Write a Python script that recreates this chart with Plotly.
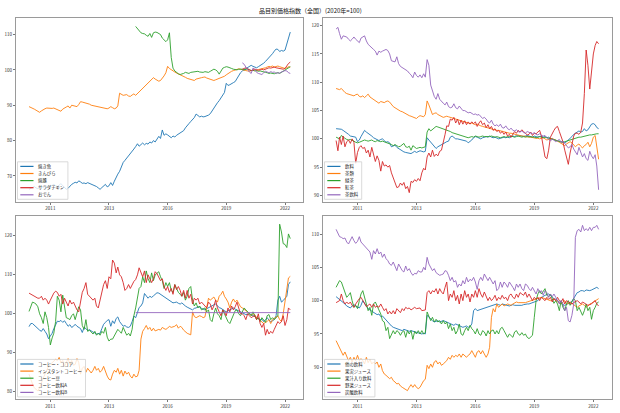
import unicodedata
import pandas as pd
import plotly.graph_objects as go

W, H = 620, 413
COLORS = ["#1f77b4", "#ff7f0e", "#2ca02c", "#d62728", "#9467bd"]
FONT = "Noto Sans CJK JP"

TITLE = "品目別価格指数（全国）(2020年=100)"
TICK_DATES = ["2011-01-01", "2013-10-01", "2016-07-01", "2019-04-01", "2022-01-01"]
TICK_LABELS = ["2011", "2013", "2016", "2019", "2022"]

# ---------------- panel 1 (top-left) ----------------
P1_NAMES = ["焼き魚", "きんぴら", "焼豚", "サラダチキン", "おでん"]
P1_STARTS = ["2010-01-01", "2010-01-01", "2015-01-01", "2020-01-01", "2020-01-01"]
yakizakana = [
    66.2, 66.5, 66.9, 67.0, 66.6, 66.4, 66.8, 67.1, 66.7, 66.5, 66.9, 67.3,
    67.0, 67.3, 67.6, 67.2, 67.0, 67.4, 67.8, 67.3, 66.8, 66.2, 66.5, 67.1,
    67.6, 67.9, 68.2, 68.0, 68.6, 68.3, 67.9, 68.0, 67.8, 68.1, 67.9, 67.6,
    67.4, 67.3, 67.0, 66.6, 66.2, 66.7, 67.1, 67.6, 66.9, 67.2, 68.1, 67.3,
    68.5, 69.8, 70.5, 71.3, 72.5, 73.8, 74.4, 75.0, 75.6, 76.2, 77.0, 77.6,
    78.3, 79.1, 78.4, 78.9, 79.3, 78.8, 79.2, 79.0, 79.6, 79.3, 80.0, 79.6,
    80.4, 81.2, 80.6, 83.0, 81.5, 81.9, 81.6, 81.2, 80.8, 81.3, 81.0, 81.5,
    81.8, 82.0, 82.3, 82.8, 83.6, 84.4, 84.8, 85.4, 85.9, 86.5, 87.5, 87.0,
    86.7, 86.9, 86.7, 86.8, 86.9, 87.2, 87.6, 88.4, 89.3, 90.2, 90.7, 91.3,
    92.0, 93.0, 93.6, 96.2, 95.6, 95.8, 96.0, 96.4, 96.7, 97.6, 98.5, 99.2,
    99.7, 100.0, 100.4, 100.7, 101.1, 101.3, 101.0, 100.8, 100.6, 100.9, 101.2, 101.5,
    101.9, 102.4, 102.9, 103.3, 104.0, 104.6, 105.3, 105.9, 105.8, 105.2, 105.5, 105.3,
    105.6, 107.2, 109.0, 110.7,
]
kinpira = [
    89.6, 89.4, 89.2, 88.9, 88.6, 88.3, 88.0, 88.4, 88.8, 89.0, 89.2, 89.1,
    89.0, 89.1, 89.2, 89.0, 88.8, 88.4, 88.3, 88.9, 89.3, 89.5, 89.8, 89.2,
    90.0, 89.8, 89.7, 89.6, 90.2, 91.0, 90.9, 90.8, 90.7, 90.6, 90.3, 90.0,
    89.9, 89.8, 89.6, 89.5, 89.4, 89.3, 89.3, 89.2, 89.0, 89.2, 89.6, 89.3,
    89.0, 89.2, 89.8, 93.4, 93.0, 92.8, 92.9, 93.0, 92.6, 92.5, 92.9, 93.2,
    92.8, 93.3, 94.0, 94.5, 95.0, 95.5, 96.0, 96.5, 97.0, 97.5, 97.8, 97.4,
    97.2, 96.8, 97.0, 97.6, 98.3, 99.2, 101.0, 100.4, 100.0, 99.6, 99.4, 99.1,
    98.9, 98.6, 98.4, 98.1, 97.9, 97.6, 97.4, 97.3, 97.1, 97.0, 97.4, 97.6,
    97.7, 97.8, 97.9, 98.0, 97.7, 97.5, 97.3, 97.1, 97.0, 97.2, 97.4, 97.5,
    97.6, 97.9, 98.2, 98.6, 99.0, 99.3, 99.6, 99.8, 100.0, 100.2, 100.3, 100.2,
    100.0, 99.9, 99.8, 99.7, 99.6, 99.8, 100.0, 99.9, 99.8, 100.1, 100.2, 100.3,
    100.4, 100.6, 100.8, 101.0, 100.9, 101.1, 100.8, 101.0, 101.1, 100.9, 100.7, 100.5,
    100.4, 100.6, 100.9, 100.8,
]
yakibuta = [
    112.3, 111.7, 111.0, 110.5, 110.3, 110.2, 109.8, 109.5, 110.3, 109.2, 110.5, 110.7,
    110.6, 110.4, 110.0, 109.0, 108.4, 108.0, 108.5, 110.5, 103.5, 100.5, 99.7, 99.2,
    98.9, 98.7, 98.8, 99.0, 99.3, 99.1, 99.0, 99.3, 99.4, 99.3, 99.5, 99.6,
    99.4, 99.3, 99.3, 99.5, 99.4, 99.3, 99.6, 99.9, 100.2, 100.0, 99.6, 98.8,
    99.8, 100.5, 100.7, 100.9, 100.8, 100.5, 100.4, 100.2, 100.1, 100.0, 100.2, 100.3,
    100.2, 100.0, 100.1, 100.3, 100.0, 99.8, 99.9, 99.7, 99.8, 99.6, 99.7, 99.5,
    99.4, 99.3, 99.2, 99.0, 99.1, 99.0, 98.9, 99.1, 99.2, 99.0, 99.3, 99.6,
    100.0, 100.3, 100.6, 100.9,
]
salad_chicken = [
    100.2, 100.4, 100.6, 100.3, 100.0, 99.8, 99.9, 100.2, 100.1, 99.9, 100.0, 100.2,
    100.0, 100.2, 100.4, 100.6, 100.5, 100.7, 100.8, 100.6, 100.5, 100.4, 100.3, 100.2,
    100.4, 101.3, 101.8, 102.2,
]
oden = [
    102.0, 101.6, 100.8, 100.0, 99.4, 99.0, 100.5, 100.2, 99.3, 99.0, 98.8, 98.7,
    99.2, 99.6, 99.4, 99.2, 99.5, 99.3, 99.4, 99.0, 99.2, 99.1, 99.4, 99.6,
    99.8, 99.7, 99.2, 99.0,
]

# ---------------- panel 2 (top-right) ----------------
P2_NAMES = ["飲料", "茶類", "緑茶", "紅茶", "茶飲料"]
P2_STARTS = ["2010-01-01"] * 5
inryo = [
    101.8, 101.8, 101.7, 101.7, 101.5, 101.3, 101.0, 100.8, 100.5, 100.4, 100.3, 100.3,
    99.5, 99.8, 100.4, 100.9, 101.5, 101.2, 101.0, 100.8, 100.5, 100.2, 100.0, 99.8,
    99.7, 99.9, 100.0, 99.7, 99.4, 99.5, 99.3, 98.6, 98.8, 98.9, 98.5, 98.3,
    98.0, 97.9, 97.7, 97.6, 97.5, 97.4, 97.4, 97.6, 97.8, 97.6, 97.7, 97.9,
    97.8, 97.7, 97.8, 100.2, 99.8, 99.4, 99.0, 98.5, 98.3, 98.6, 98.8, 99.0,
    99.2, 99.3, 99.5, 99.6, 100.3, 100.5, 100.3, 100.0, 100.0, 99.9, 99.8, 99.8,
    99.7, 99.6, 99.3, 99.5, 99.8, 100.2, 100.4, 100.3, 100.1, 100.0, 100.2, 100.3,
    100.4, 100.3, 100.5, 100.3, 100.2, 100.3, 100.1, 100.0, 100.1, 100.2, 100.3, 100.2,
    100.3, 100.2, 100.4, 100.5, 100.4, 100.6, 100.5, 100.6, 100.5, 100.4, 100.5, 100.6,
    100.5, 100.4, 100.3, 100.5, 100.4, 100.3, 100.4, 100.5, 100.3, 100.4, 100.2, 100.3,
    100.1, 100.0, 99.8, 99.7, 99.6, 99.5, 99.4, 99.5, 99.3, 99.5, 99.8, 100.0,
    100.4, 100.8, 101.0, 101.2, 101.4, 101.2, 101.3, 101.8, 101.4, 101.6, 102.2, 102.6,
    102.7, 102.5, 102.0, 101.8,
]
cha_rui = [
    108.9, 108.8, 108.7, 108.9, 108.5, 108.2, 108.0, 107.9, 107.8, 107.7, 107.6, 107.8,
    107.9, 107.5, 107.4, 107.6, 107.3, 107.6, 107.9, 107.4, 107.2, 107.0, 106.8, 106.5,
    106.3, 106.6, 106.5, 106.4, 106.6, 106.7, 106.5, 106.0, 105.7, 105.5, 105.3, 105.0,
    104.9, 104.8, 104.6, 104.4, 104.2, 104.1, 104.0, 103.9, 103.8, 103.6, 103.9, 104.1,
    104.0, 103.9, 104.3, 106.7, 106.0, 104.9, 104.3, 104.5, 104.6, 104.3, 104.1, 104.0,
    103.8, 103.9, 104.0, 103.9, 103.8, 103.7, 103.6, 103.5, 103.5, 103.3, 103.2, 103.1,
    103.0, 102.9, 102.8, 102.7, 102.8, 102.6, 102.5, 102.6, 102.4, 102.3, 102.2, 102.1,
    102.0, 101.9, 101.9, 101.8, 101.7, 101.6, 101.5, 101.5, 101.4, 101.3, 101.3, 101.2,
    101.1, 101.0, 101.0, 100.9, 100.8, 100.8, 100.7, 100.6, 100.5, 100.5, 100.4, 100.4,
    100.3, 100.3, 100.2, 100.2, 100.1, 100.1, 100.0, 100.1, 100.2, 100.0, 99.8, 99.9,
    100.0, 100.1, 99.9, 99.8, 99.6, 99.4, 99.2, 99.0, 98.8, 99.1, 99.3, 99.5,
    99.3, 99.0, 98.6, 98.9, 99.1, 98.7, 98.4, 98.8, 99.0, 99.4, 98.6, 99.2,
    100.3, 100.6, 98.8, 96.4,
]
ryokucha = [
    100.3, 100.1, 100.0, 100.6, 100.3, 100.1, 99.9, 99.8, 99.9, 99.8, 99.6, 99.4,
    99.3, 99.4, 99.5, 99.7, 99.8, 99.7, 99.6, 99.7, 99.8, 99.6, 99.5, 99.7,
    99.6, 99.5, 99.6, 99.5, 99.4, 99.3, 99.1, 99.0, 98.8, 99.0, 98.8, 98.6,
    98.7, 98.9, 99.2, 98.6, 98.5, 98.7, 98.0, 98.8, 98.5, 98.3, 98.4, 98.5,
    98.4, 98.5, 98.6, 101.2, 101.8, 101.4, 101.7, 102.0, 102.2, 102.1, 102.0, 101.8,
    101.7, 101.6, 101.5, 101.4, 101.3, 101.1, 101.0, 100.9, 100.8, 100.7, 100.6, 100.4,
    100.3, 100.3, 100.2, 100.3, 100.4, 100.3, 100.5, 100.4, 100.3, 100.4, 100.5, 100.4,
    100.4, 100.3, 100.4, 100.5, 100.4, 100.3, 100.4, 100.3, 100.2, 100.3, 100.4, 100.3,
    100.3, 100.4, 100.5, 100.4, 100.3, 100.4, 100.5, 100.4, 100.3, 100.4, 100.3, 100.4,
    100.4, 100.3, 100.4, 100.3, 100.2, 100.3, 100.4, 100.3, 100.2, 100.3, 100.2, 100.1,
    100.0, 100.0, 99.9, 99.8, 99.7, 99.6, 99.5, 99.4, 99.5, 99.6, 99.8, 99.9,
    99.9, 100.0, 100.1, 100.2, 100.3, 100.3, 100.4, 100.5, 100.5, 100.6, 100.7, 100.7,
    100.8, 100.8, 100.9, 100.9,
]
kocha = [
    99.7, 97.9, 100.3, 99.0, 100.5, 98.6, 99.5, 99.8, 99.2, 100.0, 99.4, 95.7,
    97.6, 98.5, 98.8, 98.3, 98.5, 97.5, 98.0, 96.8, 98.5, 97.0, 96.0, 97.0,
    96.2, 94.3, 96.0, 95.2, 95.4, 95.0, 95.3, 94.0, 93.0, 92.0, 91.4, 91.5,
    92.2, 91.8, 92.3, 91.2, 91.6, 90.5, 92.5, 92.3, 92.8, 92.5, 93.0, 92.6,
    94.0, 94.8, 94.5, 96.8, 97.5, 96.8, 98.0, 96.9, 97.3, 97.0, 97.8, 98.0,
    99.2, 100.8, 102.3, 102.2, 103.5, 103.3, 103.8, 102.8, 103.5, 102.5, 103.3, 102.6,
    103.2, 102.5, 103.0, 102.6, 103.0, 102.7, 103.0, 102.2, 102.8, 103.2, 102.5, 102.8,
    102.0, 102.5, 101.8, 102.2, 101.5, 101.8, 101.3, 101.5, 101.0, 101.3, 100.8, 101.2,
    100.5, 100.8, 100.3, 100.8, 101.3, 101.0, 101.5, 101.2, 101.6, 101.3, 101.0, 100.7,
    100.8, 101.2, 100.6, 101.0, 100.9, 101.3, 101.5, 100.5, 98.5, 96.8, 96.5, 98.0,
    100.3, 101.0, 101.5, 102.0, 102.2, 101.3, 100.5, 99.5, 98.0, 96.5, 95.5, 97.5,
    99.2, 100.5, 101.0, 101.0, 100.8, 101.2, 102.8, 108.0, 115.7, 113.0, 108.8, 112.5,
    115.0, 116.5, 117.2, 116.8,
]
cha_inryo = [
    119.4, 119.7, 118.6, 117.6, 118.2, 118.1, 118.0, 117.6, 117.3, 117.6, 118.0, 117.6,
    117.3, 117.0, 117.8, 118.0, 118.2, 117.3, 116.7, 116.4, 116.0, 115.8, 115.5, 114.8,
    115.5, 115.3, 115.5, 115.7, 115.8, 115.6, 115.0, 113.8, 113.7, 113.6, 114.5, 113.3,
    112.8, 112.6, 112.4, 112.2, 112.0, 111.6, 111.3, 110.8, 111.8, 111.2, 110.9, 111.3,
    110.8, 111.5, 110.9, 114.0, 113.0, 109.5, 108.5, 107.5, 107.0, 108.0, 107.0, 106.6,
    106.3, 106.0, 106.5, 105.7, 105.5, 105.6, 106.2, 105.5, 105.3, 105.8, 105.4, 105.0,
    105.0, 104.8, 104.6, 104.7, 104.5, 104.3, 104.4, 104.2, 104.3, 104.0, 103.6, 103.8,
    103.5, 103.0, 102.8, 103.3, 102.6, 102.3, 102.5, 102.2, 102.6, 102.0, 101.9, 102.3,
    101.8, 101.6, 101.9, 101.5, 101.4, 101.6, 101.3, 101.2, 101.4, 101.1, 101.0, 101.3,
    101.2, 101.0, 100.9, 101.1, 100.8, 100.7, 100.9, 100.6, 100.5, 100.6, 100.2, 99.8,
    99.6, 100.0, 99.8, 99.5, 99.7, 99.9, 99.4, 99.6, 99.2, 98.8, 98.4, 98.6,
    99.0, 98.2, 97.6, 97.2, 98.5, 97.5, 96.8, 97.4, 96.5, 96.2, 97.8, 97.0,
    96.5, 97.2, 95.2, 91.0,
]

# ---------------- panel 3 (bottom-left) ----------------
P3_NAMES = ["コーヒー・ココア", "インスタントコーヒー", "コーヒー豆", "コーヒー飲料A", "コーヒー飲料B"]
P3_STARTS = ["2010-01-01", "2010-01-01", "2010-01-01", "2010-01-01", "2015-01-01"]
coffee_cocoa = [
    96.7, 97.5, 97.5, 97.0, 96.8, 96.3, 95.8, 95.5, 96.2, 95.5, 94.8, 93.6,
    94.2, 95.0, 96.2, 97.3, 98.1, 98.0, 98.3, 97.8, 98.2, 97.5, 96.8, 97.2,
    96.5, 96.8, 97.3, 96.8, 96.5, 96.2, 95.2, 96.5, 96.2, 95.7, 95.9, 95.5,
    95.3, 95.1, 94.8, 94.9, 95.0, 96.2, 97.3, 97.8, 98.3, 98.5, 96.8, 98.2,
    97.5, 98.8, 99.2, 98.0, 97.5, 96.8, 97.0, 96.6, 96.5, 96.8, 98.0, 99.4,
    99.0, 100.6, 101.6, 102.0, 102.8, 105.2, 104.5, 104.0, 104.5, 104.2, 104.6, 105.0,
    105.4, 105.3, 105.0, 104.5, 104.2, 104.0, 103.6, 103.4, 103.0, 102.8, 102.9, 103.0,
    102.7, 102.5, 102.8, 102.3, 102.0, 101.7, 101.5, 101.2, 101.0, 101.4, 101.5, 101.8,
    101.7, 101.4, 101.2, 101.0, 101.3, 101.5, 101.8, 102.0, 102.3, 102.5, 102.0, 101.6,
    101.4, 101.0, 100.8, 100.5, 100.8, 101.0, 101.3, 101.5, 101.2, 101.0, 100.8, 100.5,
    100.3, 100.0, 99.8, 99.9, 100.0, 99.8, 99.5, 99.3, 99.0, 98.8, 98.5, 98.6,
    98.0, 98.5, 99.0, 98.4, 98.0, 98.2, 98.5, 99.5, 103.5, 104.5, 103.0, 103.4,
    104.0, 104.5, 107.5, 108.2,
]
instant_coffee = [
    84.5, 83.0, 82.0, 81.0, 80.5, 80.2, 81.0, 82.5, 83.5, 84.5, 85.5, 86.5,
    87.0, 87.5, 87.8, 88.3, 88.0, 88.8, 87.5, 88.0, 86.5, 87.5, 88.5, 87.0,
    88.0, 86.8, 87.0, 88.5, 87.5, 84.5, 86.0, 86.5, 85.0, 86.0, 85.5, 84.8,
    85.5, 86.5, 85.5, 86.0, 85.0, 85.5, 86.5, 85.0, 84.0, 83.2, 83.0, 84.5,
    85.5, 85.0, 86.0, 84.5, 85.5, 84.0, 85.3, 84.5, 85.0, 84.0, 83.5, 84.5,
    83.8, 84.0, 85.5, 93.5, 95.5, 96.2, 97.0, 96.0, 96.5, 95.6, 96.3, 95.6,
    95.8, 96.0, 95.8, 96.5, 96.2, 96.0, 96.3, 96.8, 96.5, 96.6, 96.8, 97.2,
    96.3, 96.8, 96.5, 95.8, 95.3, 95.0, 94.8, 94.6, 100.5, 99.3, 99.0, 99.2,
    99.5, 99.3, 99.0, 99.2, 102.0, 104.0, 103.5, 103.8, 104.3, 103.5, 103.0, 104.5,
    105.0, 105.8, 104.5, 103.8, 103.0, 101.5, 103.0, 103.8, 103.0, 103.5, 102.5, 101.8,
    101.5, 101.0, 100.8, 100.5, 100.0, 99.5, 100.0, 99.8, 99.0, 98.8, 98.3, 98.0,
    97.5, 97.8, 98.0, 98.5, 97.5, 98.5, 98.8, 99.0, 99.5, 98.5, 98.0, 100.0,
    103.0, 107.0, 109.2, 109.6,
]
coffee_beans = [
    100.6, 101.8, 103.0, 102.8, 102.5, 101.8, 100.0, 99.0, 97.5, 100.5, 99.0, 96.5,
    92.0, 93.8, 95.0, 98.0, 104.5, 103.5, 100.5, 104.8, 101.5, 99.0, 98.8, 98.5,
    99.5, 100.0, 98.5, 100.5, 101.8, 101.0, 97.0, 96.0, 98.5, 95.5, 95.8, 95.3,
    94.8, 95.5, 94.5, 95.0, 94.5, 95.5, 95.0, 96.5, 94.0, 93.0, 93.5, 93.5,
    94.5, 95.5, 96.0, 95.5, 95.0, 96.5, 95.5, 94.5, 95.0, 94.3, 96.0, 99.5,
    101.5, 104.0, 106.5, 107.0, 109.5, 108.0, 111.0, 109.0, 108.0, 110.5, 108.5, 110.0,
    110.5, 110.8, 109.5, 108.5, 106.5, 108.0, 107.0, 108.0, 106.0, 105.5, 107.5, 106.5,
    105.5, 105.0, 104.5, 105.5, 103.5, 104.5, 106.5, 107.0, 103.5, 102.0, 102.8, 101.5,
    102.0, 101.0, 101.3, 101.5, 100.5, 101.0, 98.5, 98.0, 100.0, 101.5, 100.0, 99.5,
    98.5, 101.0, 100.0, 99.0, 98.0, 97.5, 98.5, 99.5, 100.8, 101.0, 100.0, 99.5,
    100.5, 101.5, 101.0, 100.5, 100.0, 99.5, 100.5, 99.5, 98.5, 99.0, 98.0, 99.0,
    98.5, 97.8, 99.5, 99.8, 98.5, 99.0, 98.5, 99.0, 99.5, 123.0, 121.0, 118.0,
    117.8, 117.0, 120.5, 119.3,
]
coffee_drink_a = [
    105.3, 105.0, 104.8, 104.5, 104.3, 104.0, 104.0, 104.5, 103.5, 104.0, 103.5, 102.5,
    103.5, 104.5, 105.3, 105.8, 105.5, 104.5, 105.0, 102.5, 104.0, 103.0, 102.0, 103.5,
    102.5, 103.0, 102.0, 101.0, 100.5, 103.5, 105.5, 106.5, 108.0, 105.0, 104.5, 104.0,
    103.5, 104.0, 102.0, 101.5, 103.5, 105.2, 107.5, 108.5, 106.5, 109.5, 109.0, 113.8,
    113.0, 110.5, 112.0, 110.0, 109.5, 108.0, 106.0, 106.5, 107.5, 106.5, 107.5, 108.3,
    108.8, 110.0, 111.8, 110.5, 109.5, 111.0, 108.0, 110.0, 109.0, 108.0, 109.0, 110.8,
    110.3, 109.5, 108.5, 109.0, 107.0, 106.0, 107.0, 105.5, 106.5, 105.0, 107.5, 106.2,
    107.0, 106.0, 104.5, 106.0, 104.0, 106.0, 104.0, 105.0, 102.5, 104.0, 103.5, 104.0,
    102.5, 103.0, 102.5, 102.0, 101.5, 103.0, 102.5, 101.0, 102.0, 103.5, 101.5, 100.5,
    99.5, 101.0, 100.5, 99.5, 101.5, 100.5, 102.0, 101.0, 101.8, 103.0, 101.5, 100.0,
    100.0, 99.5, 98.5, 100.0, 99.5, 99.0, 99.3, 99.5, 98.5, 100.0, 97.5, 96.5,
    97.5, 94.5, 96.0, 94.8, 95.5, 95.0, 96.0, 97.0, 98.0, 97.5, 98.0, 99.5,
    97.0, 98.5, 101.5, 101.0,
]
coffee_drink_b = [
    100.3, 100.3, 100.3, 100.3, 100.3, 100.3, 100.3, 100.3, 100.3, 100.3, 100.3, 100.3,
    100.3, 100.3, 100.3, 100.3, 100.3, 100.3, 100.3, 100.3, 100.3, 100.3, 100.3, 100.3,
    100.3, 100.3, 100.3, 100.3, 100.3, 100.3, 100.3, 100.3, 100.3, 100.3, 100.3, 100.3,
    100.3, 100.3, 100.3, 100.3, 100.3, 100.3, 100.3, 100.3, 100.3, 100.3, 100.3, 100.3,
    100.3, 100.3, 100.3, 100.3, 100.3, 100.3, 100.3, 100.3, 100.3, 100.3, 100.3, 100.3,
    100.3, 100.3, 100.3, 100.3, 100.3, 100.3, 100.3, 100.3, 100.3, 100.3, 100.3, 100.3,
    100.3, 100.3, 100.3, 100.3, 100.3, 100.3, 100.3, 100.3, 100.3, 100.3, 100.3, 100.3,
    100.3, 100.3, 100.3, 100.3,
]

# ---------------- panel 4 (bottom-right) ----------------
P4_NAMES = ["他の飲料", "果実ジュース", "果汁入り飲料", "野菜ジュース", "炭酸飲料"]
P4_STARTS = ["2010-01-01"] * 5
other_drinks = [
    100.6, 100.4, 100.1, 99.9, 99.7, 99.5, 99.2, 99.0, 98.9, 99.2, 99.4, 99.2,
    99.0, 98.9, 99.3, 100.0, 99.6, 99.1, 98.8, 98.6, 98.4, 98.3, 98.1, 97.9,
    98.0, 97.6, 97.7, 97.4, 97.0, 96.7, 96.4, 96.2, 96.0, 95.9, 95.8, 95.7,
    95.6, 95.5, 95.7, 95.6, 95.5, 95.4, 95.5, 95.4, 95.3, 95.3, 95.2, 95.1,
    95.0, 95.1, 95.0, 97.8, 97.5, 97.2, 97.0, 96.8, 96.9, 97.0, 96.8, 96.9,
    97.0, 96.9, 96.8, 96.7, 96.5, 96.4, 96.3, 96.5, 96.4, 96.3, 96.1, 96.0,
    96.1, 96.2, 96.0, 96.1, 96.5, 98.5, 98.8, 98.5, 98.6, 98.7, 98.8, 98.9,
    99.0, 99.1, 99.2, 99.3, 99.3, 99.4, 99.5, 99.4, 99.3, 99.5, 99.4, 99.3,
    99.3, 99.2, 99.3, 99.4, 99.3, 99.3, 99.2, 99.3, 99.3, 99.4, 99.5, 99.5,
    99.5, 99.6, 99.7, 99.8, 99.9, 100.0, 100.3, 100.5, 100.7, 100.8, 100.9, 101.0,
    100.8, 100.5, 100.3, 100.2, 100.0, 99.8, 99.5, 99.4, 99.3, 99.4, 99.5, 99.7,
    99.9, 100.4, 100.9, 101.2, 101.3, 101.5, 101.5, 101.4, 101.6, 101.5, 101.5, 101.6,
    101.7, 101.9, 102.0, 101.8,
]
fruit_juice = [
    94.0, 93.4, 93.0, 92.2, 91.8, 92.3, 91.5, 91.0, 91.5, 90.8, 91.5, 91.0,
    91.8, 91.0, 91.3, 91.0, 90.5, 91.5, 90.7, 91.2, 90.5, 90.8, 90.5, 90.8,
    90.0, 90.5, 89.5, 89.0, 88.8, 88.6, 88.3, 88.5, 88.0, 87.8, 87.5, 87.6,
    87.2, 87.0, 86.8, 86.7, 86.5, 87.0, 87.4, 87.0, 87.4, 87.0, 86.8, 87.0,
    87.5, 88.0, 88.2, 90.3, 89.8, 90.5, 90.0, 90.8, 91.0, 90.5, 90.8, 90.3,
    90.5, 90.7, 91.0, 91.5, 91.2, 91.8, 91.5, 91.8, 91.6, 92.0, 91.5, 92.0,
    91.8, 91.5, 91.8, 92.0, 92.5, 92.0, 91.5, 92.3, 92.5, 92.0, 92.5, 92.0,
    91.5, 92.0, 93.0, 97.5, 98.8, 98.3, 99.5, 99.0, 99.3, 99.5, 99.2, 99.4,
    99.5, 99.4, 99.3, 99.5, 99.6, 99.8, 99.7, 99.7, 99.6, 99.6, 99.7, 99.8,
    99.9, 100.0, 100.1, 100.2, 100.3, 100.3, 100.4, 100.5, 100.4, 100.3, 100.2, 100.2,
    100.0, 100.1, 100.3, 100.0, 99.8, 99.6, 99.5, 99.8, 100.0, 99.6, 99.5, 99.8,
    99.6, 99.5, 99.2, 99.0, 99.2, 99.3, 99.5, 99.3, 99.0, 99.2, 99.5, 99.6,
    99.8, 100.0, 100.1, 100.3,
]
juice_drinks = [
    102.0, 102.5, 103.0, 102.8, 102.0, 101.0, 100.5, 100.8, 101.2, 100.0, 99.0, 99.3,
    98.8, 100.0, 101.0, 101.5, 100.5, 99.8, 98.5, 99.0, 97.8, 99.5, 99.8, 99.2,
    98.5, 98.0, 97.0, 96.8, 95.5, 96.0, 94.3, 95.0, 95.5, 95.0, 95.5, 95.3,
    94.8, 95.3, 95.5, 94.5, 95.5, 95.0, 95.5, 94.2, 95.4, 95.0, 95.5, 95.0,
    95.5, 95.0, 95.2, 98.3, 97.5, 97.0, 97.5, 96.8, 97.2, 96.8, 97.0, 96.5,
    97.0, 96.5, 96.8, 95.8, 96.5, 95.5, 96.0, 95.0, 95.5, 96.5, 95.0, 94.8,
    95.5, 96.0, 95.5, 96.3, 95.8, 95.5, 95.0, 95.8, 95.0, 94.8, 95.5, 95.3,
    94.7, 95.5, 95.0, 95.5, 95.6, 95.0, 95.5, 95.0, 95.8, 96.0, 95.5, 95.0,
    94.5, 95.0, 94.8, 94.5, 95.3, 95.5, 95.0, 94.8, 95.2, 94.8, 95.0, 94.5,
    94.3, 94.5, 94.8, 97.5, 100.0, 101.0, 101.5, 101.0, 101.5, 101.8, 100.8, 100.6,
    101.0, 100.2, 99.6, 100.0, 99.5, 98.5, 100.0, 99.0, 98.5, 99.5, 100.0, 99.3,
    99.8, 100.3, 100.0, 98.5, 99.0, 98.3, 97.8, 98.5, 99.5, 98.5, 99.0, 97.2,
    98.5, 99.0, 99.6, 99.8,
]
vegetable_juice = [
    99.7, 99.8, 100.0, 101.0, 100.0, 99.5, 99.8, 99.5, 99.8, 99.3, 99.0, 99.5,
    100.0, 100.3, 100.5, 100.0, 99.5, 99.1, 99.3, 99.5, 99.0, 99.5, 99.0, 99.2,
    99.0, 99.5, 99.0, 98.5, 98.8, 98.0, 98.4, 98.0, 98.5, 98.0, 98.8, 98.5,
    98.2, 98.8, 98.5, 99.0, 98.8, 98.9, 98.6, 98.8, 99.0, 98.8, 98.8, 98.9,
    98.5, 98.5, 98.6, 101.2, 101.5, 101.0, 101.5, 101.3, 101.8, 101.0, 101.8, 101.3,
    101.0, 102.0, 102.8, 100.0, 101.0, 100.5, 101.5, 100.0, 100.8, 99.5, 101.0, 100.0,
    101.5, 100.5, 101.0, 99.8, 101.0, 100.5, 101.5, 100.5, 101.8, 101.0, 100.5, 101.3,
    100.5, 100.0, 100.5, 100.0, 100.3, 100.8, 100.0, 100.5, 100.2, 100.8, 100.3, 100.5,
    100.0, 100.8, 101.0, 100.5, 100.3, 101.0, 100.5, 101.2, 101.0, 100.8, 101.3, 100.5,
    101.0, 100.5, 100.0, 100.5, 100.2, 100.5, 100.0, 100.5, 100.3, 100.0, 100.5, 100.2,
    100.5, 99.8, 100.3, 100.0, 100.5, 100.0, 99.8, 100.3, 99.5, 100.0, 99.8, 99.6,
    99.5, 99.7, 99.8, 100.0, 99.8, 99.5, 99.8, 99.6, 99.5, 99.3, 99.4, 99.5,
    99.8, 100.0, 99.5, 99.2,
]
carbonated = [
    110.7, 110.0, 109.6, 109.5, 109.3, 109.4, 108.8, 108.5, 109.0, 109.6, 109.0, 108.6,
    108.9, 109.6, 108.8, 108.5, 108.2, 107.8, 107.5, 107.3, 106.2, 107.5, 107.0, 107.8,
    107.0, 107.3, 106.5, 107.0, 106.3, 106.0, 105.5, 105.3, 105.8, 105.0, 104.5, 105.5,
    105.0, 104.5, 104.3, 105.2, 104.5, 104.8, 104.2, 103.8, 104.1, 104.0, 104.5, 104.3,
    104.3, 105.0, 104.6, 106.5, 105.5, 105.0, 104.5, 104.8, 104.2, 104.0, 103.8, 103.9,
    104.0, 104.5, 104.4, 103.8, 103.0, 103.5, 102.8, 103.0, 102.0, 102.5, 102.2, 103.0,
    102.5, 103.5, 102.8, 103.2, 103.0, 103.5, 102.8, 101.7, 103.0, 103.5, 103.0, 104.0,
    103.5, 103.0, 103.5, 103.0, 102.5, 103.0, 101.5, 101.8, 102.8, 102.0, 102.8, 102.5,
    102.0, 102.8, 102.3, 102.0, 101.5, 102.5, 102.0, 102.5, 101.8, 101.5, 102.5, 102.3,
    101.8, 101.5, 102.0, 101.5, 101.0, 101.8, 101.2, 101.5, 100.8, 101.5, 101.2, 100.5,
    101.0, 100.6, 101.0, 100.5, 100.0, 99.5, 100.0, 99.5, 98.5, 99.0, 97.0, 96.8,
    97.8, 99.5, 109.5, 110.5, 110.7, 110.3, 111.3, 110.5, 110.8, 110.5, 111.0, 110.5,
    111.0, 111.0, 111.3, 110.7,
]

PANELS = [
    dict(names=P1_NAMES, starts=P1_STARTS,
         series=[yakizakana, kinpira, yakibuta, salad_chicken, oden],
         yrange=[62.7, 114.6], yticks=[70, 80, 90, 100, 110],
         box=(16.0, 18.3, 303.3, 201.7)),
    dict(names=P2_NAMES, starts=P2_STARTS,
         series=[inryo, cha_rui, ryokucha, kocha, cha_inryo],
         yrange=[88.9, 121.3], yticks=[90, 95, 100, 105, 110, 115, 120],
         box=(323.0, 18.3, 611.7, 201.7)),
    dict(names=P3_NAMES, starts=P3_STARTS,
         series=[coffee_cocoa, instant_coffee, coffee_beans, coffee_drink_a, coffee_drink_b],
         yrange=[78.05, 125.1], yticks=[80, 90, 100, 110, 120],
         box=(16.0, 216.0, 303.3, 399.3)),
    dict(names=P4_NAMES, starts=P4_STARTS,
         series=[other_drinks, fruit_juice, juice_drinks, vegetable_juice, carbonated],
         yrange=[85.2, 112.7], yticks=[90, 95, 100, 105, 110],
         box=(323.0, 216.0, 611.7, 399.3)),
]

X_RANGE = ["2009-05-23", "2022-11-10"]


def px_x(x):
    return x / W


def px_y(y):
    return 1 - y / H


def text_width(s, size):
    w = 0.0
    for ch in s:
        w += size if unicodedata.east_asian_width(ch) in ("W", "F") else 0.62 * size
    return w


fig = go.Figure()
shapes = []
annotations = []
LEG_FONT = 4.4
ROW = 7.1

for i, p in enumerate(PANELS):
    n = i + 1
    xa = "x" if n == 1 else f"x{n}"
    ya = "y" if n == 1 else f"y{n}"
    left, top, right, bottom = p["box"]
    for k, (name, start, vals) in enumerate(zip(p["names"], p["starts"], p["series"])):
        dates = pd.date_range(start, periods=len(vals), freq="MS")
        fig.add_trace(go.Scatter(
            x=dates, y=vals, mode="lines", name=name, showlegend=False,
            line=dict(color=COLORS[k], width=0.9), xaxis=xa, yaxis=ya,
        ))
    axis_common = dict(
        showline=True, mirror=True, linecolor="#9a9a9a", linewidth=1,
        ticks="outside", ticklen=2, tickwidth=0.8, tickcolor="#555555",
        showgrid=False, zeroline=False, automargin=False,
        tickfont=dict(family=FONT, size=4.6, color="#333333"),
    )
    fig.layout[("xaxis" if n == 1 else f"xaxis{n}")] = dict(
        type="date", domain=[px_x(left), px_x(right)], range=X_RANGE,
        anchor=ya, tickmode="array", tickvals=TICK_DATES, ticktext=TICK_LABELS,
        **axis_common,
    )
    fig.layout[("yaxis" if n == 1 else f"yaxis{n}")] = dict(
        domain=[px_y(bottom), px_y(top)], range=p["yrange"], anchor=xa,
        tickmode="array", tickvals=p["yticks"], ticktext=[str(v) for v in p["yticks"]],
        **axis_common,
    )
    # legend (drawn as guide shapes / text, lower-left corner)
    maxw = max(text_width(s, LEG_FONT) for s in p["names"])
    bl = left + 1.5
    bb = bottom - 2.4
    bt = bb - (len(p["names"]) * ROW + 2.0)
    br = bl + 21.5 + maxw + 2.5
    shapes.append(dict(type="rect", xref="paper", yref="paper",
                       x0=px_x(bl), x1=px_x(br), y0=px_y(bb), y1=px_y(bt),
                       fillcolor="rgba(255,255,255,0.8)",
                       line=dict(color="#d0d0d0", width=0.8), layer="above"))
    for k, name in enumerate(p["names"]):
        ry = bt + 4.6 + ROW * k
        shapes.append(dict(type="line", xref="paper", yref="paper",
                           x0=px_x(bl + 2.8), x1=px_x(bl + 16.0),
                           y0=px_y(ry), y1=px_y(ry),
                           line=dict(color=COLORS[k], width=1.2), layer="above"))
        annotations.append(dict(xref="paper", yref="paper", x=px_x(bl + 19.0), y=px_y(ry),
                                xanchor="left", yanchor="middle", text=name, showarrow=False,
                                font=dict(family=FONT, size=LEG_FONT, color="#222222"),
                                borderpad=0))

annotations.append(dict(xref="paper", yref="paper", x=0.5, y=px_y(10.5),
                        xanchor="center", yanchor="middle", text=TITLE, showarrow=False,
                        font=dict(family=FONT, size=6, color="#111111")))

fig.update_layout(
    width=W, height=H, margin=dict(l=0, r=0, t=0, b=0),
    paper_bgcolor="white", plot_bgcolor="white",
    showlegend=False, shapes=shapes, annotations=annotations,
    font=dict(family=FONT), hovermode=False,
)

fig.write_html(
    "out.html",
    config={"displayModeBar": False, "staticPlot": True},
    post_script="document.body.style.margin='0px';document.body.style.padding='0px';",
)
